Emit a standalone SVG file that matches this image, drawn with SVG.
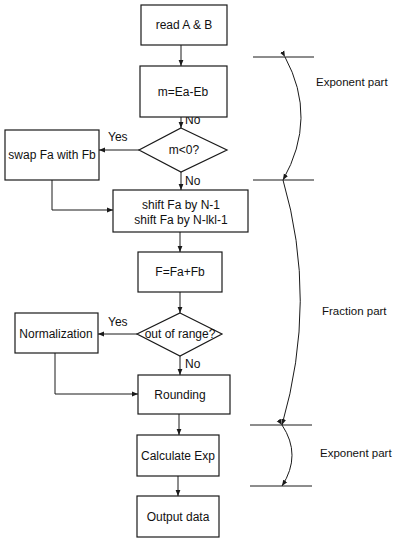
<svg xmlns="http://www.w3.org/2000/svg" width="396" height="541" viewBox="0 0 396 541">
<style>
.box{fill:#fff;stroke:#1a1a1a;stroke-width:1.2}
.t{font-family:"Liberation Sans",Arial,sans-serif;font-size:12px;fill:#111;text-anchor:middle}
.l{font-family:"Liberation Sans",Arial,sans-serif;font-size:12px;fill:#111}
.r{font-family:"Liberation Sans",Arial,sans-serif;font-size:11.5px;fill:#111}
.c{fill:none;stroke:#1a1a1a;stroke-width:1}
</style>
<defs>
<marker id="ah" viewBox="0 0 10 10" refX="10" refY="5" markerWidth="6" markerHeight="6" orient="auto">
<path d="M0,1 L10,5 L0,9 z" fill="#1a1a1a"/>
</marker>
</defs>
<rect width="396" height="541" fill="#fff"/>
<g id="connectors">
<path class="c" d="M181,45 V66" marker-end="url(#ah)"/>
<path class="c" d="M181,117 V128" marker-end="url(#ah)"/>
<path class="c" d="M139,150 H99" marker-end="url(#ah)"/>
<path class="c" d="M181,172 V190" marker-end="url(#ah)"/>
<path class="c" d="M52,180 V210 H113" marker-end="url(#ah)"/>
<path class="c" d="M180,232 V252" marker-end="url(#ah)"/>
<path class="c" d="M180,292 V313" marker-end="url(#ah)"/>
<path class="c" d="M137,334 H98" marker-end="url(#ah)"/>
<path class="c" d="M180,356 V375" marker-end="url(#ah)"/>
<path class="c" d="M55,353 V394 H138" marker-end="url(#ah)"/>
<path class="c" d="M179,414 V435" marker-end="url(#ah)"/>
<path class="c" d="M178,476 V496" marker-end="url(#ah)"/>
<text class="l" x="185" y="124">No</text>
<text class="l" x="108" y="141">Yes</text>
<text class="l" x="185" y="185">No</text>
<text class="l" x="108" y="326">Yes</text>
<text class="l" x="185" y="368">No</text>
</g>
<g id="read"><rect class="box" x="141" y="5" width="86" height="40"/><text class="t" x="184" y="29">read A &amp; B</text></g>
<g id="m"><rect class="box" x="140" y="66" width="87" height="51"/><text class="t" x="183" y="96">m=Ea-Eb</text></g>
<g id="cond1"><polygon class="box" points="181,128 227,150 181,172 139,150"/><text class="t" x="184" y="154">m&lt;0?</text></g>
<g id="swap"><rect class="box" x="5" y="130" width="94" height="50"/><text class="t" x="52" y="159">swap Fa with Fb</text></g>
<g id="shift"><rect class="box" x="113" y="190" width="135" height="42"/><text class="t" x="181" y="209">shift Fa by N-1</text><text class="t" x="181" y="224">shift Fa by N-lkl-1</text></g>
<g id="add"><rect class="box" x="138" y="252" width="84" height="40"/><text class="t" x="180" y="276">F=Fa+Fb</text></g>
<g id="cond2"><polygon class="box" points="180,313 222,334 180,356 137,334"/><text class="t" x="180" y="338">out of range?</text></g>
<g id="norm"><rect class="box" x="15" y="313" width="83" height="40"/><text class="t" x="56" y="338">Normalization</text></g>
<g id="round"><rect class="box" x="138" y="375" width="92" height="39"/><text class="t" x="180" y="399">Rounding</text></g>
<g id="exp"><rect class="box" x="137" y="435" width="82" height="41"/><text class="t" x="178" y="460">Calculate Exp</text></g>
<g id="out"><rect class="box" x="137" y="496" width="82" height="41"/><text class="t" x="178" y="521">Output data</text></g>
<g id="brackets">
<path class="c" d="M253,57 H314 M253,180 H314 M250,425 H312 M250,486 H312"/>
<path class="c" d="M285,57 Q318,118 283,180" marker-start="url(#ah)" marker-end="url(#ah)"/>
<path class="c" d="M283,180 Q318,300 282,425" marker-end="url(#ah)"/>
<path class="c" d="M282,425 Q302,455 282,486" marker-start="url(#ah)" marker-end="url(#ah)"/>
<text class="r" x="316" y="86">Exponent part</text>
<text class="r" x="322" y="315">Fraction part</text>
<text class="r" x="320" y="457">Exponent part</text>
</g>
</svg>
